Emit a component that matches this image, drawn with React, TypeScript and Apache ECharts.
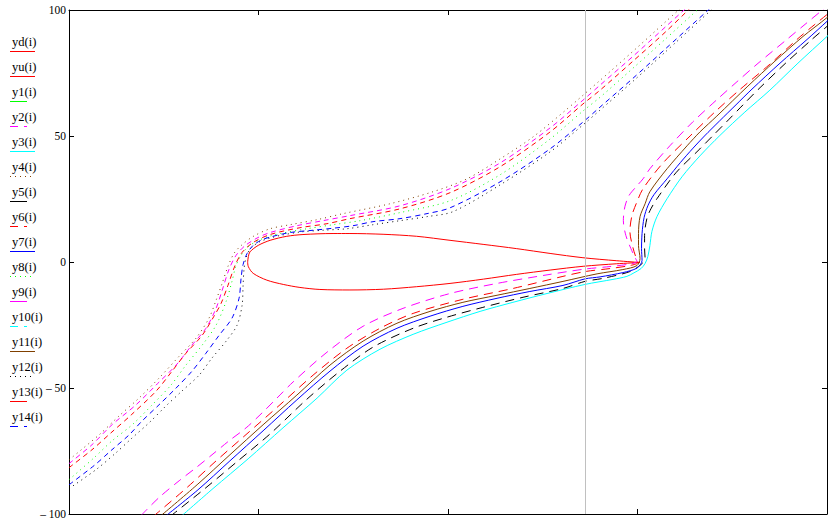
import React, { useEffect, useRef } from "react";
import * as echarts from "echarts";

// ---- axes ----
const X_MIN = -150;
const X_MAX = 150;
const X_STEP = 75;
const Y_MIN = -100;
const Y_MAX = 100;
const Y_STEP = 50;
const yTickValues = [-100, -50, 0, 50, 100];
const yTickLabels = ["\u2013 100", "\u2013 50", "0", "50", "100"];
const markerX = 54.2;

// ---- airfoil ----
const yd = [[-79.3,0],[-79.0,-1.9],[-77.1,-4.5],[-71.7,-7.2],[-65.2,-8.9],[-58.6,-10.1],[-50.7,-10.9],[-38.8,-11.1],[-25.6,-10.8],[-12.4,-9.8],[0.8,-8.5],[14.0,-6.8],[27.2,-4.9],[40.4,-3.2],[53.5,-1.7],[66.8,-0.7],[76.0,-0.2]];
const yu = [[-79.3,0],[-79.0,2.2],[-78.4,4.0],[-75.1,6.6],[-70.4,8.6],[-63.8,10.2],[-57.4,10.9],[-45.5,11.3],[-38.8,11.3],[-25.7,11.0],[-12.4,10.2],[0.8,8.6],[13.9,7.0],[27.2,5.3],[40.4,3.4],[53.4,1.7],[66.8,0.5],[76.0,-0.2]];

// ---- streamlines ----
const y1: number[][] = [];
const y2 = [[-150.0,-80.0],[-140.9,-72.5],[-133.0,-64.6],[-123.5,-56.7],[-115.1,-48.4],[-107.6,-40.9],[-101.7,-33.4],[-95.8,-26.3],[-91.8,-18.4],[-89.4,-11.3],[-86.7,-3.0],[-83.9,2.6],[-80.3,6.5],[-75.2,9.7],[-70.4,11.7],[-59.8,14.4],[-49.5,16.4],[-38.8,18.4],[-19.0,22.3],[0.8,29.1],[20.6,39.3],[40.4,53.2],[53.4,64.2],[60.2,70.2],[73.2,81.6],[86.3,93.5],[99.7,105.7]];
const y3 = [[-105.7,-101.0],[-93.0,-89.9],[-79.1,-78.1],[-65.3,-65.8],[-51.8,-54.0],[-40.0,-42.9],[-26.9,-34.6],[-13.8,-28.7],[-0.4,-23.9],[12.7,-19.6],[25.7,-16.0],[39.2,-12.5],[54.2,-8.9],[65.3,-6.9],[70.8,-5.7],[73.6,-4.3],[76.4,-2.6],[78.0,-0.6],[79.1,2.2],[79.9,6.5],[80.7,12.1],[82.7,18.0],[86.7,25.1],[92.6,33.8],[99.7,42.1],[107.6,50.2],[117.5,59.5],[127.4,68.2],[138.5,78.9],[150.0,89.5],[155.1,94.3]];
const y4 = [[-150.0,-78.5],[-138.1,-68.6],[-130.2,-61.1],[-122.3,-54.0],[-114.4,-46.1],[-106.4,-37.4],[-99.7,-30.2],[-94.6,-22.3],[-91.8,-15.2],[-89.4,-8.5],[-87.1,-1.8],[-84.7,3.4],[-81.9,6.5],[-77.2,10.1],[-70.4,13.2],[-62.5,14.8],[-51.8,16.8],[-41.5,19.2],[-23.0,23.1],[-5.9,27.9],[7.5,33.0],[20.6,40.9],[33.6,49.6],[47.1,60.7],[60.2,72.1],[73.2,83.6],[86.3,95.5],[99.7,107.7]];
const y5 = [[-110.0,-101.0],[-96.2,-89.9],[-83.1,-78.9],[-70.4,-68.2],[-55.8,-54.4],[-42.7,-43.3],[-29.7,-33.8],[-13.8,-26.3],[-0.4,-21.9],[13.8,-18.0],[29.7,-14.0],[45.5,-10.5],[54.2,-7.7],[61.3,-6.5],[72.0,-3.8],[76.4,-1.0],[78.0,1.4],[77.8,5.3],[77.8,10.5],[78.7,17.2],[80.3,21.1],[82.7,25.1],[90.2,35.4],[99.7,44.9],[105.0,50.3],[111.0,56.4],[116.8,62.4],[122.7,68.4],[133.4,78.7],[144.0,88.3],[150.0,93.5],[155.1,98.2]];
const y6 = [[-150.0,-81.6],[-140.9,-74.5],[-133.4,-67.8],[-125.4,-60.7],[-115.5,-51.2],[-109.2,-43.3],[-103.7,-36.2],[-97.3,-29.1],[-92.6,-21.5],[-89.8,-16.4],[-87.1,-9.3],[-84.3,-1.4],[-81.5,3.8],[-77.2,7.7],[-70.4,10.9],[-58.6,13.6],[-47.9,15.2],[-38.8,17.2],[-19.0,21.1],[0.8,27.5],[20.6,37.8],[40.4,51.6],[53.4,62.7],[60.2,68.2],[73.2,79.7],[86.3,91.5],[101.7,106.5]];
const y7 = [[-112.0,-101.0],[-99.3,-90.7],[-86.3,-78.9],[-73.2,-67.0],[-59.8,-54.7],[-46.7,-43.3],[-33.6,-33.4],[-20.2,-26.3],[-7.1,-21.5],[5.9,-17.6],[19.4,-14.4],[32.4,-11.7],[45.5,-9.3],[54.2,-6.7],[60.2,-5.9],[69.2,-4.2],[74.8,-2.4],[76.8,0.6],[76.6,5.3],[76.8,11.3],[77.6,17.6],[79.1,22.3],[81.5,26.7],[86.7,33.0],[92.0,39.5],[97.0,45.2],[101.5,50.0],[107.5,56.0],[114.0,62.4],[120.3,68.6],[131.4,78.9],[142.1,88.3],[150.0,95.5],[155.1,100.2]];
const y8 = [[-150.0,-86.4],[-140.1,-77.7],[-133.0,-71.0],[-125.0,-64.6],[-117.1,-56.7],[-109.6,-48.8],[-103.7,-40.9],[-97.3,-33.0],[-91.8,-25.1],[-87.8,-15.6],[-85.5,-7.7],[-83.9,-1.4],[-81.9,2.6],[-79.5,5.7],[-75.6,8.3],[-70.4,10.3],[-65.3,11.5],[-55.8,13.2],[-45.5,14.8],[-34.8,16.4],[-19.0,19.6],[0.8,24.3],[20.6,34.6],[40.4,48.8],[53.4,59.9],[60.2,65.4],[73.2,76.9],[86.3,88.7],[103.7,104.6]];
const y9 = [[-121.5,-100.6],[-114.4,-93.5],[-106.4,-86.8],[-99.7,-81.6],[-93.4,-76.5],[-86.7,-71.0],[-79.9,-65.8],[-73.6,-59.9],[-67.7,-54.0],[-61.3,-47.6],[-47.9,-35.8],[-33.6,-25.5],[-17.8,-18.4],[0.8,-12.5],[19.4,-8.5],[39.2,-5.1],[54.2,-2.8],[64.1,-1.8],[72.0,-0.8],[74.8,0.2],[74.0,1.8],[72.4,5.3],[70.4,10.5],[69.4,16.4],[70.0,21.9],[71.6,26.3],[74.4,29.8],[77.2,33.0],[79.9,37.0],[87.8,46.1],[96.9,55.6],[106.4,64.4],[114.0,71.2],[122.3,78.5],[134.1,88.3],[141.3,94.3],[148.4,100.2],[151.2,102.6]];
const y10: number[][] = [];
const y11 = [[-114.0,-101.0],[-99.3,-88.4],[-86.3,-76.5],[-73.2,-64.6],[-59.8,-52.8],[-46.7,-40.9],[-33.6,-31.4],[-20.2,-24.3],[-7.1,-19.6],[5.9,-16.0],[19.4,-13.2],[32.4,-10.5],[45.5,-7.7],[59.0,-4.7],[69.2,-3.0],[74.8,-1.4],[76.0,1.4],[75.4,6.5],[75.4,11.3],[76.0,18.0],[78.0,23.1],[79.9,27.9],[86.7,37.0],[94.6,46.1],[99.7,51.6],[106.4,57.9],[118.7,69.8],[129.4,79.7],[140.5,89.5],[150.0,97.0],[155.1,101.8]];
const y12 = [[-150.0,-89.9],[-139.3,-82.4],[-131.4,-75.7],[-125.0,-69.8],[-118.3,-63.8],[-111.6,-57.1],[-105.3,-51.2],[-98.5,-44.9],[-93.4,-38.1],[-87.8,-31.4],[-83.5,-25.1],[-81.5,-17.2],[-81.1,-9.3],[-80.7,-2.6],[-79.9,1.8],[-78.3,5.1],[-74.8,7.9],[-70.4,9.5],[-66.5,10.5],[-58.6,11.9],[-49.5,12.6],[-40.0,13.2],[-29.7,14.8],[-19.0,16.4],[-8.3,18.0],[2.0,20.0],[20.6,30.6],[40.4,43.7],[53.4,54.4],[60.2,60.3],[73.2,71.7],[86.3,83.6],[109.6,105.0]];
const y13 = [[-116.7,-101.0],[-103.3,-89.5],[-92.2,-79.3],[-78.7,-67.4],[-66.1,-56.3],[-53.4,-44.9],[-40.0,-34.2],[-26.9,-26.3],[-13.8,-20.4],[5.9,-14.8],[25.7,-10.5],[45.5,-5.7],[54.2,-3.8],[64.1,-2.6],[72.0,-1.4],[75.2,-0.2],[74.4,1.8],[73.2,5.7],[72.0,12.1],[72.8,18.4],[74.8,23.9],[77.2,29.1],[85.1,39.3],[95.8,50.0],[105.7,59.6],[115.5,68.4],[127.4,78.5],[138.1,88.3],[145.2,94.3],[150.0,98.2],[153.1,101.0]];
const y14 = [[-150.0,-88.4],[-140.1,-80.8],[-133.0,-74.5],[-126.2,-68.6],[-121.1,-63.1],[-114.4,-56.7],[-107.6,-50.0],[-101.3,-43.3],[-95.8,-36.2],[-90.6,-29.1],[-85.5,-22.3],[-82.7,-14.4],[-81.9,-6.5],[-81.1,-1.0],[-79.5,3.4],[-77.2,6.5],[-73.9,8.7],[-70.4,9.9],[-62.5,11.7],[-53.4,12.6],[-45.5,13.4],[-37.6,14.4],[-29.7,16.0],[-19.0,17.2],[-8.3,19.2],[0.8,21.5],[20.6,31.8],[40.4,44.9],[53.4,55.5],[60.2,61.5],[73.2,72.9],[86.3,84.8],[107.6,104.2]];

// ---- styles (Mathcad trace styles) ----
const RED = "#ff0000";
const BLUE = "#0000ff";
const GREEN = "#00ff00";
const MAGENTA = "#ff00ff";
const CYAN = "#00ffff";
const BROWN = "#804000";
const BLACK = "#000000";

type Kind = "solid" | "dash" | "long" | "dot";
const PLOT_DASH: Record<Kind, any> = {
  solid: "solid",
  dash: [5, 4],
  long: [9, 6],
  dot: [1, 4],
};
const LEGEND_SAMPLE: Record<Kind, { len: number; dash: number[] | null }> = {
  solid: { len: 25, dash: null },
  long: { len: 17, dash: null },
  dash: { len: 17, dash: [8, 6] },
  dot: { len: 21, dash: [1, 4] },
};

const traces: { name: string; data: number[][]; color: string; kind: Kind }[] = [
  { name: "yd(i)", data: yd, color: RED, kind: "solid" },
  { name: "yu(i)", data: yu, color: RED, kind: "solid" },
  { name: "y1(i)", data: y1, color: GREEN, kind: "long" },
  { name: "y2(i)", data: y2, color: MAGENTA, kind: "dash" },
  { name: "y3(i)", data: y3, color: CYAN, kind: "solid" },
  { name: "y4(i)", data: y4, color: BROWN, kind: "dot" },
  { name: "y5(i)", data: y5, color: BLACK, kind: "long" },
  { name: "y6(i)", data: y6, color: RED, kind: "dash" },
  { name: "y7(i)", data: y7, color: BLUE, kind: "solid" },
  { name: "y8(i)", data: y8, color: GREEN, kind: "dot" },
  { name: "y9(i)", data: y9, color: MAGENTA, kind: "long" },
  { name: "y10(i)", data: y10, color: CYAN, kind: "dash" },
  { name: "y11(i)", data: y11, color: BROWN, kind: "solid" },
  { name: "y12(i)", data: y12, color: BLACK, kind: "dot" },
  { name: "y13(i)", data: y13, color: RED, kind: "long" },
  { name: "y14(i)", data: y14, color: BLUE, kind: "dash" },
];

const FONT = '"Liberation Serif", "Times New Roman", serif';

export default function App() {
  const ref = useRef<HTMLDivElement>(null);
  useEffect(() => {
    if (!ref.current) return;
    document.body.style.margin = "0";
    const chart = echarts.init(ref.current, undefined, { renderer: "svg" });

    const series: any[] = traces.map((t, i) => {
      const s: any = {
        name: t.name,
        type: "line",
        data: t.data,
        showSymbol: false,
        symbol: "none",
        smooth: 0.3,
        clip: true,
        silent: true,
        lineStyle: { color: t.color, width: 1, type: PLOT_DASH[t.kind] },
        emphasis: { disabled: true },
        z: 2 + i * 0.01,
      };
      if (i === 0) {
        s.markLine = {
          silent: true,
          symbol: ["none", "none"],
          label: { show: false },
          lineStyle: { color: "#c0c0c0", type: "solid", width: 1 },
          data: [{ xAxis: markerX }],
        };
      }
      return s;
    });

    const graphic: any[] = [];
    traces.forEach((t, k) => {
      const ty = 41.5 + 25 * k;
      const ly = 51.5 + 25 * k;
      const smp = LEGEND_SAMPLE[t.kind];
      graphic.push({
        type: "text",
        x: 12,
        y: ty,
        silent: true,
        style: {
          text: t.name,
          fill: "#000",
          font: `12.5px ${FONT}`,
          verticalAlign: "middle",
          align: "left",
        },
      });
      graphic.push({
        type: "line",
        silent: true,
        shape: { x1: 10, y1: ly, x2: 10 + smp.len, y2: ly },
        style: { stroke: t.color, lineWidth: 1, lineDash: smp.dash || undefined },
      });
    });

    const xCommon = {
      type: "value",
      min: X_MIN,
      max: X_MAX,
      interval: X_STEP,
      axisLine: { show: true, onZero: false, lineStyle: { color: "#000", width: 1 } },
      axisTick: { show: true, inside: true, length: 5, lineStyle: { color: "#000", width: 1 } },
      axisLabel: { show: false },
      splitLine: { show: false },
    };
    const yCommon = {
      type: "value",
      min: Y_MIN,
      max: Y_MAX,
      interval: Y_STEP,
      axisLine: { show: true, onZero: false, lineStyle: { color: "#000", width: 1 } },
      axisTick: { show: true, inside: true, length: 5, lineStyle: { color: "#000", width: 1 } },
      splitLine: { show: false },
    };

    chart.setOption({
      animation: false,
      backgroundColor: "#ffffff",
      grid: { left: 69, right: 10, top: 10, bottom: 3, containLabel: false },
      xAxis: [
        { ...xCommon, position: "bottom" },
        { ...xCommon, position: "top" },
      ],
      yAxis: [
        {
          ...yCommon,
          position: "left",
          axisLabel: {
            show: true,
            margin: 3,
            color: "#000",
            fontFamily: FONT,
            fontSize: 11.5,
            formatter: (v: number) => {
              const idx = yTickValues.indexOf(v);
              return idx >= 0 ? yTickLabels[idx] : "";
            },
          },
        },
        { ...yCommon, position: "right", axisLabel: { show: false } },
      ],
      tooltip: { show: false },
      series,
      graphic,
    });

    return () => chart.dispose();
  }, []);

  return (
    <div style={{ position: "fixed", left: 0, top: 0, width: 837, height: 520, overflow: "hidden" }}>
      <div ref={ref} style={{ width: 837, height: 520, background: "#fff" }} />
    </div>
  );
}
